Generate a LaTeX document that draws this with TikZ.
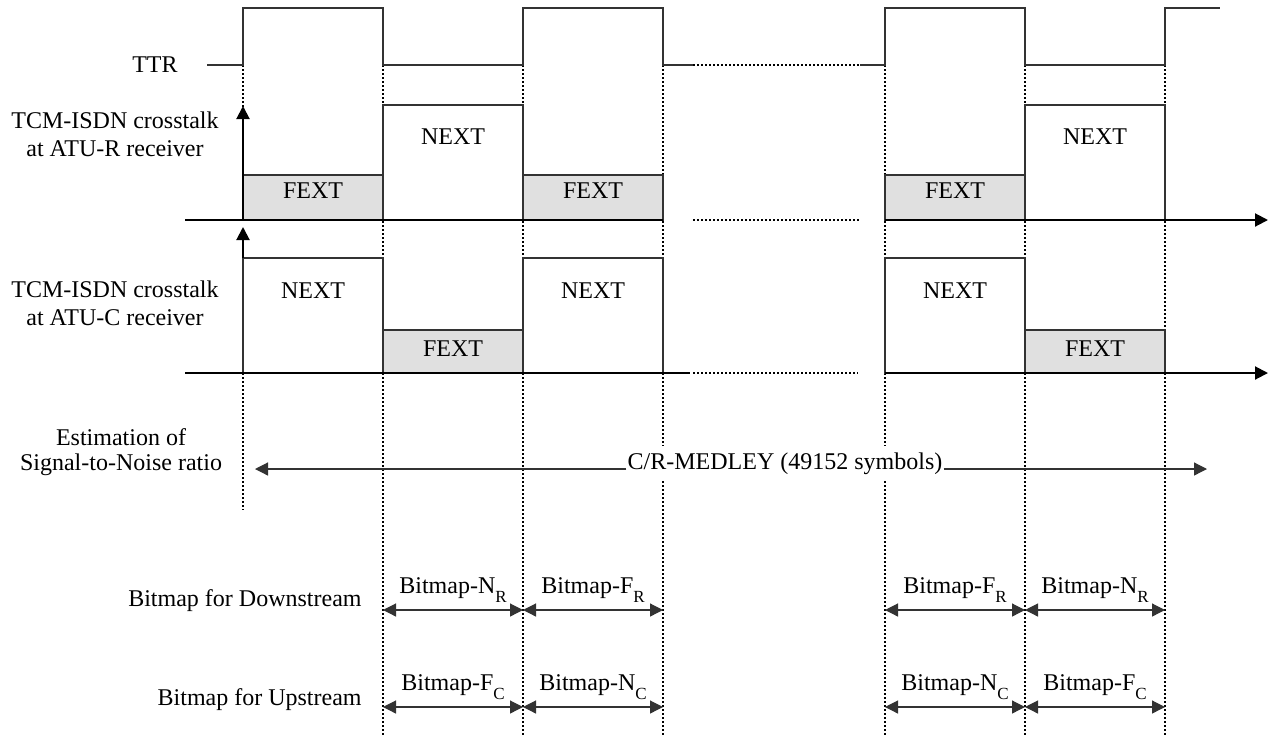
\documentclass[tikz,border=0pt]{standalone}
\usepackage{fontspec}
\setmainfont{Liberation Serif}
\usetikzlibrary{arrows.meta}

\newcommand{\lowsub}[1]{\raisebox{-4.5pt}{\fontsize{8.5pt}{8.5pt}\selectfont #1}}

\begin{document}
\begin{tikzpicture}[
		x=0.5pt, y=-0.5pt,
		>={Triangle[length=6.5pt,width=6.5pt]},
		% Styles
		pulse/.style={line width=0.6pt, draw=black!80},
		nextBox/.style={pulse, fill=white},
		fextBox/.style={pulse, fill=black!12},
		axisLine/.style={line width=1pt, draw=black},
		guide/.style={line width=1pt, dash pattern=on 1pt off 1pt},
		bitmapArrow/.style={<->, line width=0.6pt, draw=black!80},
		lbl/.style={font=\fontsize{12pt}{14pt}\selectfont, inner sep=0pt}
	]

	\useasboundingbox (0,0) rectangle (1273,740);

	% --- 1. HULPLIJNEN (GESTIPPELD) ---
	\foreach \x in {383,523,663,885,1025,1165} {
			\draw[guide] (\x,65) -- (\x,735);
		}
	\draw[guide] (243,65) -- (243,107);
	\draw[guide] (243,373) -- (243,510);

	% --- 2. TTR ---
	\draw[pulse] (207,65) -- (243,65) -- (243,8) -- (383,8) -- (383,65) -- (523,65)
		-- (523,8) -- (663,8) -- (663,65) -- (693,65);
	\draw[guide] (693,65) -- (860,65);
	\draw[pulse] (860,65) -- (885,65) -- (885,8) -- (1025,8) -- (1025,65) -- (1165,65)
		-- (1165,8) -- (1220,8);
	\node[lbl, anchor=base east] (ttr) at (178,72) {TTR};

	% --- 3. OVERSPRAAK BIJ ATU-R ---
	\draw[fextBox] (243,175) rectangle (383,220);
	\draw[nextBox] (383,105) rectangle (523,220);
	\draw[fextBox] (523,175) rectangle (663,220);
	\draw[fextBox] (885,175) rectangle (1025,220);
	\draw[nextBox] (1025,105) rectangle (1165,220);
	\draw[axisLine] (185,220) -- (663,220);
	\draw[guide] (693,220) -- (860,220);
	\draw[axisLine, ->] (885,220) -- (1268,220);
	\draw[axisLine, ->] (243,220) -- (243,106);

	\node[lbl, anchor=base] (fextR1) at (313,198) {FEXT};
	\node[lbl, anchor=base] (nextR1) at (453,144) {NEXT};
	\node[lbl, anchor=base] (fextR2) at (593,198) {FEXT};
	\node[lbl, anchor=base] (fextR3) at (955,198) {FEXT};
	\node[lbl, anchor=base] (nextR2) at (1095,144) {NEXT};
	\node[lbl, align=center] (atuR) at (115,134) {TCM-ISDN crosstalk\\at ATU-R receiver};

	% --- 4. OVERSPRAAK BIJ ATU-C ---
	\draw[nextBox] (243,258) rectangle (383,373);
	\draw[fextBox] (383,330) rectangle (523,373);
	\draw[nextBox] (523,258) rectangle (663,373);
	\draw[nextBox] (885,258) rectangle (1025,373);
	\draw[fextBox] (1025,330) rectangle (1165,373);
	\draw[axisLine] (185,373) -- (690,373);
	\draw[guide] (693,373) -- (858,373);
	\draw[axisLine, ->] (885,373) -- (1268,373);
	\draw[axisLine, ->] (243,258) -- (243,227);

	\node[lbl, anchor=base] (nextC1) at (313,298) {NEXT};
	\node[lbl, anchor=base] (fextC1) at (453,356) {FEXT};
	\node[lbl, anchor=base] (nextC2) at (593,298) {NEXT};
	\node[lbl, anchor=base] (nextC3) at (955,298) {NEXT};
	\node[lbl, anchor=base] (fextC2) at (1095,356) {FEXT};
	\node[lbl, align=center] (atuC) at (115,303) {TCM-ISDN crosstalk\\at ATU-C receiver};

	% --- 5. SNR-SCHATTING ---
	\node[lbl, align=center, font=\fontsize{12pt}{12.5pt}\selectfont] (snr) at (121,452)
		{Estimation of\\Signal-to-Noise ratio};
	\node[lbl, anchor=base, fill=white, inner xsep=0.5pt, inner ysep=3pt] (medley) at (785,469)
		{C/R-MEDLEY (49152 symbols)};
	\coordinate (medleyL) at (255,469);
	\coordinate (medleyR) at (1207,469);
	\draw[pulse, ->] (medley.base west) -- (medleyL);
	\draw[pulse, ->] (medley.base east) -- (medleyR);

	% --- 6. BITMAPS ---
	\node[lbl, anchor=base east] (down) at (362,606) {Bitmap for Downstream};
	\node[lbl, anchor=base east] (up) at (362,705) {Bitmap for Upstream};
	\foreach \xa/\xb/\sub/\yy in {
			383/523/N\lowsub{R}/610, 523/663/F\lowsub{R}/610,
			885/1025/F\lowsub{R}/610, 1025/1165/N\lowsub{R}/610,
			383/523/F\lowsub{C}/707, 523/663/N\lowsub{C}/707,
			885/1025/N\lowsub{C}/707, 1025/1165/F\lowsub{C}/707} {
			\coordinate (bmA) at (\xa,\yy);
			\coordinate (bmB) at (\xb,\yy);
			\draw[bitmapArrow] (bmA) -- (bmB);
			\node[lbl, anchor=base] (bm-\xa-\yy) at ({(\xa+\xb)/2},\yy-17) {Bitmap-\sub};
		}

\end{tikzpicture}
\end{document}
